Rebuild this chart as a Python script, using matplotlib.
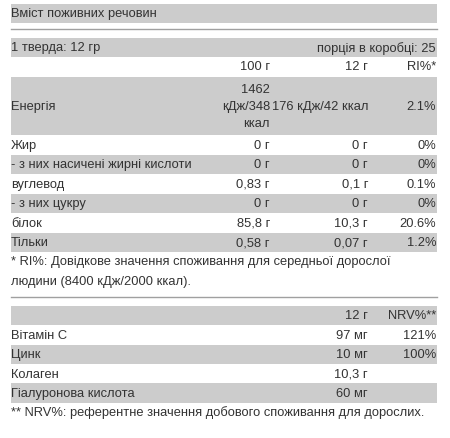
import matplotlib
matplotlib.use("Agg")
import matplotlib.pyplot as plt

title = "Вміст поживних речовин"
serving_left = "1 тверда: 12 гр"
serving_right = "порція в коробці: 25"
header1 = ["", "100 г", "12 г", "RI%*"]
names1 = ["Енергія", "Жир", "- з них насичені жирні кислоти", "вуглевод", "- з них цукру", "білок", "Тільки"]
per100 = ["1462\nкДж/348\nккал", "0 г", "0 г", "0,83 г", "0 г", "85,8 г", "0,58 г"]
per12 = ["176 кДж/42 ккал", "0 г", "0 г", "0,1 г", "0 г", "10,3 г", "0,07 г"]
ri = ["2.1%", "0%", "0%", "0.1%", "0%", "20.6%", "1.2%"]
foot1 = ["* RI%: Довідкове значення споживання для середньої дорослої", "людини (8400 кДж/2000 ккал)."]
header2 = ["", "12 г", "NRV%**"]
names2 = ["Вітамін C", "Цинк", "Колаген", "Гіалуронова кислота"]
amt2 = ["97 мг", "10 мг", "10,3 г", "60 мг"]
nrv = ["121%", "100%", "", ""]
foot2 = "** NRV%: референтне значення добового споживання для дорослих."

fig = plt.figure(figsize=(4.5, 4.39), dpi=100)
ax = fig.add_axes([0, 0, 1, 1])
ax.set_xlim(0, 450); ax.set_ylim(439, 0); ax.axis("off")
FS = 9.3
FAM = ["Liberation Sans", "DejaVu Sans"]
TC = "#333333"
GRAY = "#cccccc"
L, R = 11, 437
C1, C2, C3 = 270, 368, 436

def band(y0, y1):
    ax.add_patch(plt.Rectangle((L, y0), R - L, y1 - y0, color=GRAY, lw=0))

def txt(x, y, s, ha="left"):
    ax.text(x, y, s, ha=ha, va="center", fontsize=FS, family=FAM, color=TC, linespacing=1.55)

band(5, 24); txt(L, 14.5, title)
ax.plot([L, R], [30, 30], color="#a0a0a0", lw=1)
band(39, 58); txt(L, 48.5, serving_left); txt(C3, 48.5, serving_right, "right")
txt(C1, 67.5, header1[1], "right"); txt(C2, 67.5, header1[2], "right"); txt(C3, 67.5, header1[3], "right")

heights = [58] + [19.5] * 6
y = 78
for i, n in enumerate(names1):
    h = heights[i]
    if i % 2 == 0:
        band(y, y + h)
    c = y + h / 2
    txt(L, c, n); txt(C1, c, per100[i], "right"); txt(C2, c, per12[i], "right"); txt(C3, c, ri[i], "right")
    y += h
txt(L, 262, foot1[0]); txt(L, 282, foot1[1])
ax.plot([L, R], [298, 298], color="#a0a0a0", lw=1)
band(307, 326); txt(C2, 316.5, header2[1], "right"); txt(C3, 316.5, header2[2], "right")
y = 326
for i, n in enumerate(names2):
    if i % 2 == 1:
        band(y, y + 19.5)
    c = y + 9.75
    txt(L, c, n); txt(C2, c, amt2[i], "right"); txt(C3, c, nrv[i], "right")
    y += 19.5
txt(L, 413, foot2)
fig.savefig("out.png", dpi=100)
